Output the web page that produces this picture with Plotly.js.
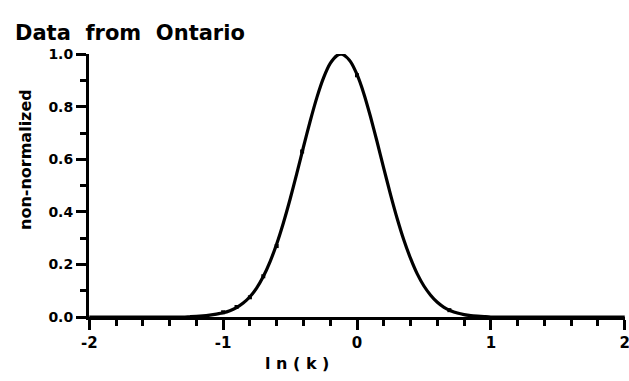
<!DOCTYPE html>
<html>
<head>
<meta charset="utf-8">
<script src="https://cdn.plot.ly/plotly-3.0.1.min.js"></script>
<style>html,body{margin:0;padding:0;background:#fff;}#chart{width:629px;height:381px;}</style>
</head>
<body>
<div id="chart"></div>
<script>
// Fitted curve
const curveX = [-2.0, -1.5, -1.30, -1.25, -1.20, -1.15, -1.10, -1.05, -1.00, -0.95, -0.90, -0.85, -0.80, -0.75, -0.70, -0.65, -0.60, -0.55, -0.50, -0.45, -0.40, -0.35, -0.30, -0.25, -0.20, -0.15, -0.12, -0.10, -0.05, 0.00, 0.05, 0.10, 0.15, 0.20, 0.25, 0.30, 0.35, 0.40, 0.45, 0.50, 0.55, 0.60, 0.65, 0.70, 0.75, 0.80, 0.85, 0.90, 0.95, 1.00, 1.5, 2.0];
const curveY = [0.0, 0.0, 0.0, 0.001, 0.002, 0.004, 0.007, 0.011, 0.016, 0.024, 0.036, 0.053, 0.077, 0.110, 0.154, 0.210, 0.278, 0.358, 0.448, 0.546, 0.647, 0.745, 0.835, 0.910, 0.965, 0.995, 1.0, 0.998, 0.973, 0.923, 0.852, 0.764, 0.667, 0.566, 0.467, 0.375, 0.293, 0.223, 0.164, 0.118, 0.083, 0.056, 0.037, 0.024, 0.015, 0.009, 0.005, 0.003, 0.0015, 0.0, 0.0, 0.0];
// Data points (small dots along the curve)
const ptsX = [-1.00, -0.90, -0.80, -0.70, -0.60, -0.41, 0.00, 0.69];
const ptsY = [0.018, 0.038, 0.075, 0.155, 0.27, 0.63, 0.92, 0.026];
const xTickVals = [-2, -1, 0, 1, 2];
const xTickText = ['-2', '-1', '0', '1', '2'];
const yTickVals = [0, 0.2, 0.4, 0.6, 0.8, 1.0];
const yTickText = ['0.0', '0.2', '0.4', '0.6', '0.8', '1.0'];

const F = 'DejaVu Sans, Liberation Sans, Arial, sans-serif';
const traces = [
  {x: curveX, y: curveY, type: 'scatter', mode: 'lines', line: {color: '#000', width: 3.2, shape: 'spline', smoothing: 0.6}, hoverinfo: 'skip', cliponaxis: false},
  {x: ptsX, y: ptsY, type: 'scatter', mode: 'markers', marker: {color: '#000', size: 4, symbol: 'square'}, hoverinfo: 'skip', cliponaxis: false}
];
const layout = {
  width: 629, height: 381,
  margin: {l: 89, r: 4, t: 54, b: 64},
  paper_bgcolor: '#fff', plot_bgcolor: '#fff',
  showlegend: false,
  font: {family: F, color: '#000', size: 14, weight: 'bold'},
  title: {text: 'Data  from  Ontario', x: 15/629, xanchor: 'left', xref: 'container', y: 1 - 33/381, yanchor: 'middle', yref: 'container', font: {family: F, size: 21, weight: 'bold', color: '#000'}},
  xaxis: {
    range: [-2.002, 2.002], showgrid: false, zeroline: false,
    showline: true, linecolor: '#000', linewidth: 3,
    ticks: 'outside', ticklen: 10, tickwidth: 3, tickcolor: '#000',
    tickvals: xTickVals, ticktext: xTickText, ticklabeloverflow: 'allow',
    tickfont: {family: F, size: 15, weight: 'bold'},
    minor: {tickvals: [-1.8,-1.6,-1.4,-1.2,-0.8,-0.6,-0.4,-0.2,0.2,0.4,0.6,0.8,1.2,1.4,1.6,1.8], ticks: 'outside', ticklen: 6, tickwidth: 3, tickcolor: '#000', showgrid: false},
    fixedrange: true
  },
  yaxis: {
    range: [0, 1.001], showgrid: false, zeroline: false,
    showline: true, linecolor: '#000', linewidth: 3,
    ticks: 'outside', ticklen: 10, tickwidth: 3, tickcolor: '#000',
    tickvals: yTickVals, ticktext: yTickText,
    tickfont: {family: F, size: 14, weight: 'bold'},
    minor: {tickvals: [0.1,0.3,0.5,0.7,0.9], ticks: 'outside', ticklen: 6, tickwidth: 3, tickcolor: '#000', showgrid: false},
    fixedrange: true
  },
  annotations: [
    {text: 'l n ( k )', xref: 'paper', yref: 'paper', x: (297-89)/536, y: -(363-317)/263, xanchor: 'center', yanchor: 'middle', showarrow: false, font: {family: F, size: 16, weight: 'bold', color: '#000'}},
    {text: 'non-normalized', xref: 'paper', yref: 'paper', x: -(89-25)/536, y: (317-160)/263, xanchor: 'center', yanchor: 'middle', textangle: -90, showarrow: false, font: {family: F, size: 16, weight: 'bold', color: '#000'}}
  ]
};
Plotly.newPlot('chart', traces, layout, {displayModeBar: false, staticPlot: true});
</script>
</body>
</html>
